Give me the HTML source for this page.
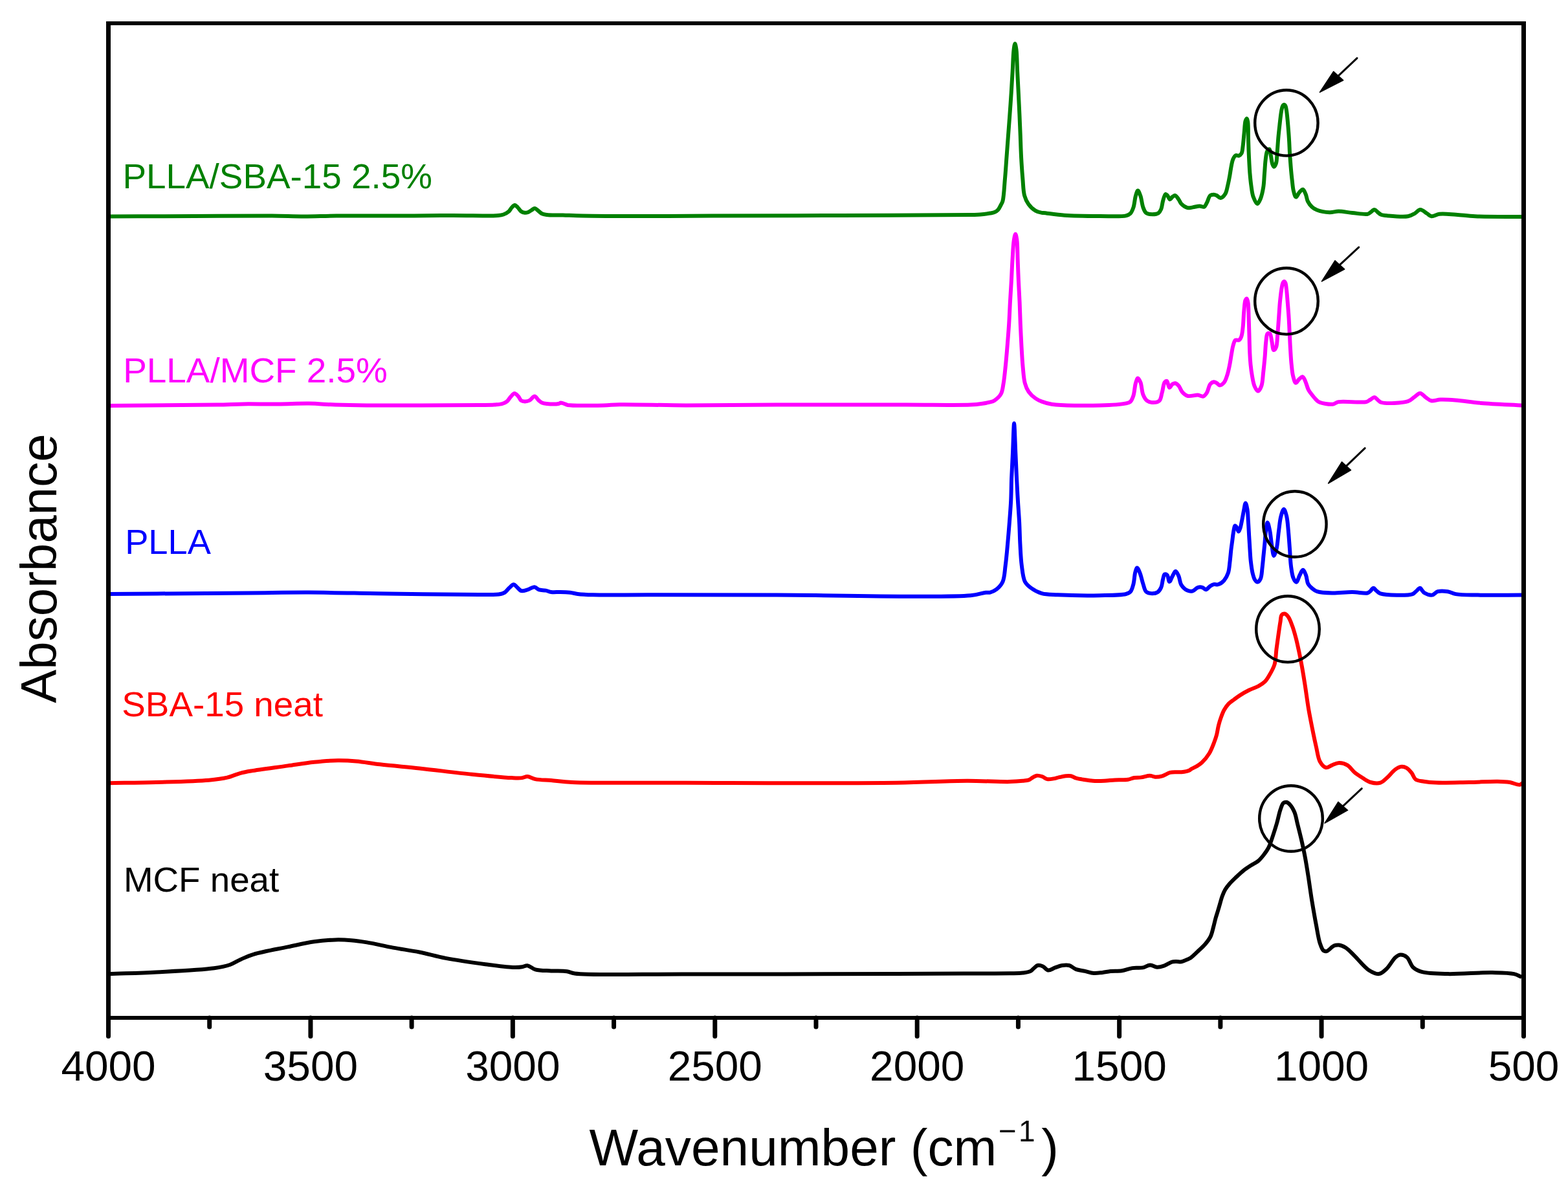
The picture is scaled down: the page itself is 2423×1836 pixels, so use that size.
<!DOCTYPE html>
<html><head><meta charset="utf-8"><title>FTIR spectra</title>
<style>html,body{margin:0;padding:0;background:#fff;}svg{display:block;}</style>
</head><body>
<svg width="2423" height="1836" viewBox="0 0 2423 1836" font-family="'Liberation Sans', Arial, Helvetica, sans-serif">
<rect width="2423" height="1836" fill="#fff"/>
<path d="M167.0,334.5 C211.3,334.3 256.8,334.2 300.0,334.0 C341.0,333.8 388.6,333.3 420.0,333.5 C440.3,333.7 453.3,334.5 470.0,334.5 C486.7,334.5 499.7,333.7 520.0,333.5 C551.4,333.2 606.9,333.6 640.0,333.5 C663.4,333.4 680.0,333.0 700.0,333.0 C720.0,333.0 748.4,333.7 760.0,333.5 C764.7,333.4 766.9,333.4 770.0,333.0 C772.8,332.7 775.4,332.4 778.0,331.5 C780.8,330.5 783.8,328.9 786.0,327.0 C788.1,325.2 789.3,322.3 791.0,320.5 C792.4,319.0 793.9,317.0 795.4,317.0 C796.9,317.0 798.5,319.1 800.0,320.5 C801.7,322.2 803.1,325.1 805.0,326.5 C806.8,327.8 809.1,328.6 811.0,328.8 C812.7,329.0 814.4,328.6 816.0,328.0 C817.7,327.4 819.3,326.0 821.0,325.0 C822.8,324.0 824.7,321.9 826.4,322.0 C828.0,322.1 829.4,323.8 831.0,325.0 C832.9,326.4 834.7,328.8 837.0,330.0 C839.4,331.2 841.6,331.5 845.0,332.0 C851.0,332.8 861.3,332.3 870.0,332.5 C879.5,332.8 887.1,333.3 900.0,333.5 C923.6,334.0 966.7,334.0 1000.0,334.0 C1033.3,334.0 1060.9,333.6 1100.0,333.5 C1155.2,333.3 1233.3,333.2 1300.0,333.0 C1366.7,332.7 1471.3,332.5 1500.0,332.0 C1507.9,331.8 1510.0,331.9 1515.0,331.5 C1520.0,331.1 1526.0,330.2 1530.0,329.5 C1532.7,329.0 1534.6,328.9 1536.7,328.0 C1538.8,327.1 1540.9,325.7 1542.5,323.9 C1544.2,322.0 1545.3,319.3 1546.5,317.0 C1547.6,314.8 1548.7,313.6 1549.5,310.5 C1551.3,303.8 1551.9,288.2 1552.9,277.1 C1553.9,266.0 1554.6,254.8 1555.4,243.7 C1556.2,232.6 1557.1,221.4 1557.9,210.3 C1558.7,199.2 1559.6,188.0 1560.4,176.9 C1561.2,165.8 1562.0,154.6 1562.7,143.5 C1563.4,132.4 1564.0,121.2 1564.7,110.1 C1565.3,99.0 1565.6,84.3 1566.6,76.7 C1567.1,72.7 1567.8,67.5 1568.4,67.5 C1569.1,67.5 1569.9,72.6 1570.5,76.7 C1571.5,84.3 1571.6,99.0 1572.1,110.1 C1572.7,121.2 1573.2,132.4 1573.8,143.5 C1574.3,154.6 1574.9,165.8 1575.4,176.9 C1575.9,188.0 1576.3,199.2 1576.8,210.3 C1577.2,221.4 1577.5,232.6 1578.1,243.7 C1578.7,254.8 1579.5,266.8 1580.4,277.1 C1581.2,286.1 1581.2,295.3 1583.1,302.2 C1584.6,307.5 1586.5,311.6 1589.3,315.5 C1592.1,319.4 1596.3,323.4 1600.1,325.6 C1603.3,327.5 1607.7,328.5 1610.0,328.9 C1611.2,329.1 1611.4,328.9 1612.8,329.0 C1617.7,329.4 1632.8,331.9 1645.0,332.7 C1660.9,333.8 1683.1,333.9 1700.0,334.0 C1714.4,334.0 1732.3,335.2 1740.0,333.3 C1743.3,332.5 1745.0,331.7 1746.8,329.9 C1749.0,327.7 1750.2,324.2 1751.5,320.4 C1753.1,315.5 1753.5,307.5 1754.9,302.8 C1755.9,299.5 1757.1,294.6 1758.3,294.6 C1759.6,294.6 1761.2,299.5 1762.4,302.8 C1764.1,307.5 1764.6,315.6 1766.4,320.4 C1767.7,323.9 1768.8,327.4 1771.2,329.2 C1773.6,331.0 1777.5,331.2 1780.7,331.2 C1783.9,331.2 1787.9,330.8 1790.2,329.2 C1792.2,327.8 1793.2,325.6 1794.3,323.1 C1795.7,319.8 1795.9,314.8 1797.0,310.9 C1798.1,307.1 1799.4,300.5 1801.0,300.0 C1801.9,299.7 1803.0,301.0 1804.0,302.0 C1805.4,303.4 1806.4,308.0 1807.8,308.2 C1809.1,308.3 1810.4,305.1 1811.9,304.1 C1813.2,303.2 1814.6,301.8 1816.0,302.1 C1817.8,302.5 1819.8,306.0 1821.4,308.2 C1823.0,310.3 1823.5,313.0 1825.4,315.0 C1827.7,317.4 1831.8,320.3 1835.0,321.1 C1837.7,321.8 1840.2,320.8 1843.1,320.4 C1846.5,319.9 1850.7,318.4 1853.9,318.4 C1856.4,318.4 1858.9,320.5 1860.7,319.7 C1862.6,318.9 1863.4,316.0 1864.8,313.6 C1866.6,310.4 1867.8,303.9 1870.2,302.0 C1871.8,300.7 1873.9,300.7 1875.6,300.7 C1877.1,300.7 1878.5,301.3 1880.0,302.0 C1881.9,302.9 1884.0,306.1 1886.1,306.0 C1888.4,305.8 1891.4,302.7 1893.2,299.9 C1895.4,296.6 1896.0,291.3 1897.2,286.7 C1898.4,281.8 1899.4,276.6 1900.3,271.5 C1901.2,266.4 1901.9,260.8 1902.8,256.3 C1903.6,252.6 1904.0,249.1 1905.3,246.2 C1906.4,243.8 1907.7,240.9 1909.4,240.1 C1910.8,239.4 1913.0,241.1 1914.5,240.6 C1916.0,240.1 1917.5,238.8 1918.5,237.1 C1919.9,234.6 1920.0,230.2 1920.6,225.9 C1921.4,220.1 1921.9,212.2 1922.6,205.6 C1923.3,199.3 1923.4,190.8 1924.6,187.0 C1925.2,185.2 1926.0,183.3 1926.6,183.3 C1927.2,183.4 1927.8,185.7 1928.2,188.0 C1929.2,193.4 1928.7,206.8 1929.0,215.8 C1929.3,224.4 1929.5,232.7 1929.9,241.1 C1930.3,249.6 1930.7,258.5 1931.3,266.5 C1931.9,273.6 1932.5,280.2 1933.4,286.7 C1934.3,292.7 1934.8,299.0 1936.6,304.0 C1938.2,308.2 1940.9,315.0 1942.9,315.0 C1944.6,315.0 1946.5,310.3 1947.9,307.0 C1949.8,302.4 1951.2,295.7 1952.2,289.6 C1953.3,282.9 1953.4,275.3 1954.0,268.1 C1954.6,260.9 1954.9,252.8 1955.7,246.6 C1956.3,241.8 1956.7,236.6 1958.1,233.8 C1958.9,232.2 1960.4,230.3 1961.3,230.5 C1962.7,230.9 1963.2,237.6 1964.0,241.3 C1964.8,245.1 1965.0,250.1 1966.1,253.1 C1966.8,255.1 1967.9,257.8 1968.8,257.8 C1969.8,257.8 1971.2,254.5 1972.0,252.0 C1973.2,248.1 1973.1,241.7 1973.6,235.9 C1974.2,229.3 1974.6,221.6 1975.2,214.4 C1975.8,207.3 1976.6,200.1 1977.4,193.0 C1978.2,185.8 1979.1,176.8 1980.1,171.5 C1980.7,168.3 1981.0,165.7 1982.0,164.0 C1982.6,162.9 1983.6,161.8 1984.4,161.8 C1985.1,161.8 1985.9,162.9 1986.5,164.0 C1987.4,165.7 1987.6,168.3 1988.1,171.5 C1988.9,176.8 1989.7,185.8 1990.3,193.0 C1990.9,200.1 1991.5,207.3 1991.9,214.4 C1992.4,221.6 1992.6,228.7 1993.0,235.9 C1993.5,243.1 1994.0,250.2 1994.6,257.4 C1995.2,264.6 1995.9,272.3 1996.7,278.9 C1997.4,284.7 1997.7,290.4 1998.9,295.0 C1999.8,298.7 2001.0,304.4 2002.6,304.6 C2004.1,304.8 2006.0,299.1 2008.0,297.1 C2009.7,295.3 2011.8,292.5 2013.4,292.8 C2015.1,293.1 2016.5,297.5 2017.7,300.3 C2019.1,303.5 2019.3,307.8 2020.9,311.1 C2022.5,314.3 2024.8,317.4 2027.3,319.7 C2029.7,321.9 2032.1,323.4 2035.6,324.7 C2040.5,326.6 2048.7,328.0 2054.6,328.2 C2059.6,328.4 2063.4,326.5 2068.5,326.5 C2074.9,326.5 2082.7,328.3 2090.0,329.0 C2097.6,329.7 2108.7,331.9 2113.4,330.8 C2115.6,330.3 2116.4,329.1 2118.0,328.0 C2119.8,326.8 2121.9,323.9 2123.8,323.9 C2125.6,323.9 2127.3,326.7 2129.0,328.0 C2130.7,329.3 2132.0,330.8 2134.2,331.7 C2137.0,332.8 2140.2,333.0 2144.6,333.4 C2152.2,334.1 2168.2,335.7 2175.7,334.3 C2180.2,333.5 2182.9,331.8 2186.1,330.0 C2189.2,328.3 2191.7,324.0 2194.8,323.9 C2198.1,323.8 2202.1,328.1 2205.2,330.0 C2207.7,331.5 2209.4,333.9 2212.1,334.3 C2215.5,334.8 2219.4,331.4 2224.2,330.8 C2231.2,329.9 2241.2,331.2 2250.1,331.7 C2259.6,332.3 2267.5,333.7 2279.6,334.3 C2298.8,335.2 2329.2,334.8 2354.0,335.0" fill="none" stroke="#008000" stroke-width="6" stroke-linejoin="round" stroke-linecap="butt"/>
<path d="M168.0,626.9 C223.7,626.5 298.2,626.3 335.0,625.6 C353.1,625.3 361.1,624.6 375.6,624.4 C392.4,624.2 412.5,624.7 430.0,624.5 C446.3,624.4 462.1,623.4 477.3,623.6 C491.4,623.8 503.8,625.1 518.0,625.6 C533.5,626.1 545.5,626.3 566.8,626.4 C606.8,626.7 708.1,626.4 740.0,626.0 C752.2,625.8 758.6,625.9 765.3,625.4 C769.7,625.1 773.0,625.0 776.2,624.0 C778.9,623.2 781.3,622.1 783.4,620.4 C785.7,618.6 787.2,615.2 789.2,613.1 C791.1,611.2 793.0,608.1 795.0,608.0 C796.9,607.9 799.1,610.6 800.8,612.4 C802.5,614.2 803.3,617.6 805.1,618.9 C806.7,620.1 808.9,620.4 810.9,620.4 C813.2,620.5 815.8,620.0 818.1,618.9 C820.9,617.6 823.6,612.4 826.1,612.5 C828.4,612.6 830.5,617.1 832.6,618.9 C834.3,620.3 835.7,621.7 837.6,622.5 C839.7,623.4 841.9,623.7 844.9,624.0 C849.6,624.5 859.3,624.7 863.0,624.0 C864.7,623.7 865.2,622.6 866.6,622.5 C868.6,622.4 871.8,624.0 873.8,624.7 C875.2,625.2 875.4,625.6 877.4,626.0 C884.9,627.3 918.2,626.7 933.0,626.4 C942.8,626.2 946.5,625.4 957.4,625.2 C979.8,624.8 1023.1,626.3 1060.0,626.4 C1103.0,626.5 1149.2,625.7 1200.0,625.5 C1260.7,625.3 1344.8,625.5 1400.0,625.5 C1439.1,625.5 1480.2,626.5 1500.0,625.5 C1508.4,625.1 1512.6,624.5 1518.0,623.7 C1522.4,623.1 1526.6,622.3 1530.0,621.4 C1532.6,620.7 1534.4,620.4 1536.7,618.9 C1539.9,616.8 1544.4,613.1 1546.7,608.9 C1549.3,604.3 1549.6,598.4 1550.7,592.2 C1552.0,584.7 1552.8,576.1 1553.7,567.1 C1554.8,556.8 1555.8,544.8 1556.7,533.7 C1557.6,522.6 1558.5,511.4 1559.2,500.3 C1559.9,489.2 1560.3,478.0 1560.9,466.9 C1561.5,455.8 1562.3,444.6 1562.9,433.5 C1563.5,422.4 1563.9,410.7 1564.6,400.1 C1565.2,390.3 1565.6,379.0 1566.7,372.0 C1567.4,367.7 1568.4,361.7 1569.2,361.7 C1570.0,361.7 1570.9,367.7 1571.5,372.0 C1572.4,379.0 1572.2,390.3 1572.6,400.1 C1573.0,410.8 1573.4,422.4 1573.9,433.5 C1574.4,444.6 1575.1,455.8 1575.6,466.9 C1576.1,478.0 1576.3,489.2 1576.8,500.3 C1577.3,511.4 1577.8,522.6 1578.4,533.7 C1579.0,544.8 1579.6,556.8 1580.6,567.1 C1581.5,576.1 1581.9,585.3 1583.8,592.2 C1585.2,597.5 1586.9,601.6 1589.6,605.5 C1592.3,609.4 1596.4,613.0 1600.1,615.6 C1603.3,617.9 1606.3,619.2 1610.0,620.6 C1614.5,622.3 1618.2,623.7 1625.3,624.7 C1640.7,626.9 1679.0,627.1 1700.0,626.5 C1715.4,626.1 1732.3,625.2 1740.0,623.4 C1743.3,622.6 1745.0,622.4 1746.8,620.7 C1749.0,618.7 1750.2,615.0 1751.5,611.2 C1753.2,606.1 1753.4,597.2 1754.9,592.3 C1755.9,589.1 1757.0,584.6 1758.3,584.5 C1759.5,584.4 1761.2,588.1 1762.4,590.9 C1764.3,595.4 1764.3,604.8 1766.4,609.9 C1768.0,613.8 1769.9,617.4 1772.6,619.4 C1775.1,621.3 1778.9,622.1 1782.0,622.1 C1785.2,622.1 1789.3,621.5 1791.5,619.4 C1794.1,617.0 1794.3,611.6 1795.6,607.2 C1797.1,602.2 1797.7,593.6 1799.7,590.9 C1800.7,589.6 1802.1,588.6 1803.1,588.9 C1804.8,589.5 1805.4,598.7 1807.1,599.0 C1808.5,599.2 1810.2,594.7 1811.9,593.6 C1813.2,592.8 1814.6,592.1 1816.0,592.3 C1817.7,592.6 1819.8,594.5 1821.4,596.3 C1823.5,598.6 1824.5,603.2 1826.8,605.8 C1829.0,608.3 1831.6,610.9 1835.0,611.9 C1839.3,613.1 1846.7,610.2 1851.2,610.6 C1854.4,610.9 1857.1,613.2 1859.4,612.6 C1861.6,612.0 1863.2,609.6 1864.8,607.2 C1867.0,603.9 1867.8,596.4 1870.2,593.6 C1871.8,591.7 1873.8,590.4 1875.6,590.2 C1877.1,590.0 1878.6,591.0 1880.0,591.8 C1881.6,592.7 1883.0,595.4 1884.8,595.4 C1886.9,595.5 1890.0,592.9 1891.9,590.6 C1894.2,587.7 1895.3,583.0 1896.7,578.7 C1898.2,573.9 1899.2,568.6 1900.3,563.2 C1901.4,557.5 1902.3,550.7 1903.3,545.3 C1904.1,540.9 1904.6,536.9 1905.7,533.4 C1906.6,530.5 1907.4,526.8 1909.2,525.6 C1910.6,524.7 1913.1,526.4 1914.6,525.6 C1916.2,524.7 1917.3,522.6 1918.2,520.2 C1919.6,516.7 1920.0,511.4 1920.6,505.9 C1921.5,498.5 1921.6,487.3 1922.4,479.7 C1923.0,473.8 1923.3,466.9 1924.5,464.0 C1925.1,462.7 1925.9,461.4 1926.5,461.5 C1927.4,461.7 1928.1,465.1 1928.6,468.0 C1929.5,473.1 1929.3,482.4 1929.6,490.0 C1929.9,498.1 1930.1,506.3 1930.4,515.0 C1930.7,524.6 1930.9,536.5 1931.3,545.3 C1931.6,552.1 1931.9,557.2 1932.5,563.2 C1933.1,569.2 1933.9,575.4 1934.9,581.1 C1935.9,586.5 1936.7,592.4 1938.5,596.6 C1939.9,599.8 1942.0,604.5 1943.8,604.5 C1945.6,604.5 1947.9,600.1 1949.2,596.6 C1951.2,591.4 1951.3,582.5 1952.2,575.1 C1953.1,567.4 1953.9,559.2 1954.6,551.3 C1955.3,543.3 1955.5,534.0 1956.4,527.4 C1957.0,522.7 1957.0,516.9 1958.7,515.5 C1959.6,514.7 1961.3,514.7 1962.3,515.5 C1964.1,516.9 1964.3,523.3 1965.3,527.4 C1966.3,531.8 1966.7,540.6 1968.3,541.0 C1969.3,541.3 1971.0,539.0 1971.9,536.9 C1973.8,532.7 1973.6,522.8 1974.3,515.5 C1975.0,507.8 1975.5,499.6 1976.1,491.6 C1976.7,483.6 1977.1,475.3 1977.8,467.7 C1978.5,460.6 1979.3,452.9 1980.2,447.4 C1980.8,443.5 1981.3,439.6 1982.3,437.5 C1982.9,436.3 1983.7,435.0 1984.4,435.0 C1985.1,435.0 1985.9,436.3 1986.4,437.5 C1987.3,439.6 1987.5,443.5 1988.0,447.4 C1988.7,453.0 1989.2,460.7 1989.8,467.7 C1990.4,475.3 1991.1,483.6 1991.6,491.6 C1992.1,499.6 1992.4,507.5 1992.8,515.5 C1993.2,523.4 1993.5,531.4 1994.0,539.3 C1994.5,547.3 1994.9,555.8 1995.7,563.2 C1996.4,569.6 1996.8,576.0 1998.1,581.1 C1999.2,585.2 2000.5,591.5 2002.3,591.8 C2003.8,592.1 2005.8,587.5 2007.7,585.9 C2009.4,584.4 2011.5,582.0 2013.0,582.3 C2014.7,582.7 2015.9,586.6 2017.2,589.4 C2018.9,593.1 2020.0,598.8 2022.0,602.6 C2023.7,605.8 2026.2,608.6 2028.0,610.9 C2029.3,612.6 2030.2,613.8 2031.6,615.3 C2033.4,617.2 2034.9,619.6 2037.9,621.1 C2042.7,623.5 2053.9,625.3 2059.4,624.7 C2063.1,624.3 2064.1,621.9 2068.3,621.1 C2077.2,619.4 2103.8,623.0 2111.3,621.1 C2114.2,620.4 2115.0,619.1 2117.0,618.0 C2119.2,616.8 2121.8,613.9 2123.9,614.0 C2125.8,614.1 2127.2,616.7 2129.0,618.0 C2130.8,619.4 2131.6,621.1 2134.6,622.0 C2141.8,624.1 2167.2,623.0 2175.8,620.2 C2180.3,618.7 2181.9,616.1 2185.0,614.0 C2188.2,611.9 2191.5,607.6 2194.6,607.7 C2197.5,607.8 2200.1,612.1 2203.0,614.0 C2205.8,615.9 2208.2,618.6 2211.6,619.3 C2215.6,620.2 2220.5,617.7 2225.9,617.5 C2232.7,617.2 2240.4,617.7 2249.2,618.4 C2260.6,619.3 2273.8,621.6 2288.6,622.9 C2307.8,624.5 2332.7,625.3 2354.8,626.5" fill="none" stroke="#ff00ff" stroke-width="6" stroke-linejoin="round" stroke-linecap="butt"/>
<path d="M167.0,918.0 C239.3,917.5 326.6,916.9 383.8,916.4 C421.3,916.1 443.8,915.5 477.0,915.6 C515.2,915.7 557.7,917.0 600.0,917.5 C645.2,918.1 710.3,918.9 740.0,918.9 C753.9,918.9 763.4,919.6 770.6,918.5 C774.7,917.9 777.3,917.3 780.0,915.6 C782.7,913.9 784.6,910.6 787.0,908.5 C789.2,906.5 791.7,903.2 793.8,903.2 C795.6,903.2 797.0,905.8 798.8,907.3 C800.9,909.1 803.1,912.5 805.8,913.2 C808.6,913.9 812.0,912.3 815.2,911.4 C818.7,910.4 822.7,907.1 825.8,907.3 C828.5,907.5 830.2,910.5 832.9,911.4 C836.0,912.4 840.1,911.9 843.4,912.6 C846.4,913.2 848.5,914.6 851.7,915.0 C855.7,915.6 861.0,914.9 865.8,915.0 C870.8,915.1 876.3,915.3 881.0,915.8 C885.2,916.3 888.2,917.4 892.8,917.9 C899.3,918.7 906.1,919.0 916.3,919.3 C935.6,919.9 966.1,919.3 1000.0,919.3 C1052.4,919.3 1126.6,919.4 1200.0,919.5 C1289.9,919.6 1456.5,924.3 1500.0,920.2 C1512.2,919.0 1517.9,916.3 1523.3,915.7 C1526.2,915.4 1527.6,916.2 1530.0,915.6 C1533.1,914.8 1536.9,913.0 1540.0,910.6 C1543.5,907.8 1547.2,903.9 1549.5,898.9 C1552.4,892.4 1552.5,882.8 1553.7,873.8 C1555.1,863.5 1556.1,851.5 1557.1,840.4 C1558.1,829.3 1559.0,818.1 1559.9,807.0 C1560.7,795.9 1561.7,784.7 1562.2,773.6 C1562.7,762.5 1562.7,751.8 1563.1,740.2 C1563.6,727.4 1564.4,713.8 1565.0,700.0 C1565.7,685.2 1566.4,654.2 1567.1,654.2 C1567.8,654.2 1568.6,685.2 1569.3,700.0 C1569.9,713.8 1570.5,727.4 1571.1,740.2 C1571.7,751.9 1572.2,762.5 1572.9,773.6 C1573.6,784.7 1574.5,795.9 1575.1,807.0 C1575.7,818.1 1575.8,829.3 1576.4,840.4 C1577.0,851.5 1577.4,863.5 1578.8,873.8 C1580.0,882.8 1580.6,892.7 1583.8,898.9 C1586.2,903.4 1589.5,906.0 1593.5,908.9 C1598.0,912.2 1603.8,915.4 1610.0,917.2 C1617.1,919.2 1624.2,918.8 1634.3,919.3 C1650.9,920.1 1680.8,920.6 1700.0,920.2 C1715.0,919.9 1732.3,920.0 1740.0,918.0 C1743.3,917.1 1745.0,916.6 1746.8,914.6 C1749.2,912.0 1750.3,906.9 1751.5,902.4 C1752.9,897.1 1753.0,889.3 1754.2,884.8 C1755.0,881.8 1755.8,877.6 1757.0,877.5 C1758.3,877.4 1760.3,882.7 1761.7,886.1 C1763.5,890.6 1764.7,897.4 1766.4,902.4 C1767.9,906.8 1768.5,912.2 1771.2,914.6 C1773.5,916.7 1777.7,917.2 1780.7,917.3 C1783.5,917.3 1786.6,916.8 1788.8,915.3 C1791.2,913.7 1793.0,910.8 1794.3,907.8 C1795.9,904.4 1796.0,899.2 1797.0,895.6 C1797.8,892.6 1798.2,888.3 1799.7,887.5 C1800.7,887.0 1802.6,887.7 1803.7,888.8 C1805.4,890.5 1805.7,898.9 1807.1,899.0 C1808.5,899.1 1810.3,893.0 1811.9,890.2 C1813.4,887.6 1815.0,882.7 1816.6,882.7 C1818.2,882.7 1820.0,887.2 1821.4,890.2 C1823.1,894.0 1823.0,900.0 1825.4,903.8 C1827.7,907.4 1831.7,911.1 1835.0,912.6 C1837.6,913.8 1840.5,914.0 1843.1,913.3 C1845.9,912.6 1848.5,908.6 1851.2,907.8 C1853.5,907.1 1855.9,907.2 1858.0,907.8 C1860.0,908.4 1861.5,911.3 1863.4,911.2 C1865.6,911.1 1868.0,907.2 1870.2,905.8 C1872.0,904.6 1873.6,903.6 1875.6,903.1 C1877.8,902.6 1880.3,903.9 1882.7,903.2 C1885.6,902.3 1889.1,899.7 1891.6,896.9 C1894.3,893.8 1896.4,889.7 1897.9,885.3 C1899.6,880.1 1899.8,873.4 1900.6,867.4 C1901.3,861.4 1901.8,855.0 1902.4,849.5 C1903.0,844.7 1903.6,840.6 1904.2,836.1 C1904.8,831.6 1905.2,826.8 1906.0,822.6 C1906.7,819.0 1907.4,812.8 1908.6,812.5 C1909.4,812.3 1910.5,814.3 1911.3,815.5 C1912.3,817.1 1913.1,821.5 1914.0,821.5 C1914.9,821.5 1915.9,817.9 1916.7,815.5 C1917.8,812.1 1918.5,807.3 1919.4,803.0 C1920.3,798.4 1921.2,793.1 1922.1,788.6 C1922.9,784.6 1923.8,777.5 1924.7,777.5 C1925.6,777.5 1926.7,783.2 1927.4,786.8 C1928.3,791.8 1928.4,798.4 1928.8,804.7 C1929.3,811.7 1929.7,819.6 1930.1,827.1 C1930.6,834.6 1931.0,842.5 1931.5,849.5 C1931.9,855.8 1932.1,861.4 1932.8,867.4 C1933.5,873.4 1934.3,880.1 1935.5,885.3 C1936.5,889.4 1937.5,893.5 1939.1,896.0 C1940.2,897.7 1941.7,899.7 1943.1,899.6 C1944.7,899.5 1946.8,896.8 1948.0,894.2 C1949.9,890.1 1949.9,882.3 1950.7,876.3 C1951.4,870.3 1951.9,864.4 1952.5,858.4 C1953.1,852.4 1953.7,846.8 1954.3,840.5 C1955.0,833.5 1955.4,824.4 1956.3,818.3 C1956.9,814.0 1957.7,807.5 1958.6,807.5 C1959.7,807.5 1961.4,816.0 1962.4,821.0 C1963.6,827.1 1964.0,834.9 1965.1,841.4 C1966.1,847.5 1967.1,858.9 1968.5,859.0 C1969.7,859.1 1971.5,852.7 1972.6,848.2 C1974.3,841.3 1974.8,829.7 1976.0,821.0 C1977.1,813.0 1977.7,804.2 1979.4,798.0 C1980.6,793.6 1982.4,787.0 1983.9,787.0 C1985.4,787.0 1987.1,793.6 1988.2,798.0 C1989.7,804.2 1990.1,813.0 1990.9,821.0 C1991.7,829.7 1992.3,839.1 1993.0,848.2 C1993.7,857.2 1993.9,867.3 1995.0,875.3 C1995.9,881.8 1996.6,888.5 1998.4,892.9 C1999.6,895.9 2001.6,899.8 2003.1,899.7 C2005.0,899.6 2006.7,892.1 2008.5,888.8 C2010.1,885.9 2011.7,880.7 2013.3,880.7 C2014.9,880.7 2016.7,885.6 2018.0,888.8 C2019.6,892.7 2019.5,898.8 2021.4,902.4 C2022.9,905.3 2025.2,907.2 2027.5,909.2 C2029.9,911.2 2032.0,913.0 2035.5,914.2 C2041.1,916.1 2050.5,916.3 2058.8,916.5 C2068.4,916.7 2080.2,914.9 2089.8,915.0 C2098.1,915.1 2108.7,917.6 2113.1,916.5 C2115.1,916.0 2115.6,915.1 2117.0,914.0 C2118.7,912.6 2120.7,908.8 2122.4,908.8 C2124.0,908.8 2125.3,911.6 2127.0,913.0 C2128.9,914.5 2129.9,916.2 2133.2,917.3 C2141.7,920.0 2175.1,920.8 2182.9,918.1 C2185.7,917.1 2186.2,915.4 2188.0,914.0 C2190.0,912.4 2192.7,908.6 2194.5,908.8 C2195.9,908.9 2196.8,911.7 2198.0,913.0 C2199.1,914.2 2199.8,915.5 2201.5,916.5 C2204.1,918.0 2209.6,920.1 2213.1,919.6 C2216.3,919.1 2218.2,915.2 2221.6,914.2 C2225.9,913.0 2232.4,913.5 2237.2,914.2 C2241.6,914.9 2244.4,917.2 2249.6,918.1 C2258.1,919.6 2270.3,919.3 2283.7,919.6 C2303.1,920.0 2331.2,919.6 2355.0,919.6" fill="none" stroke="#0000ff" stroke-width="6" stroke-linejoin="round" stroke-linecap="butt"/>
<path d="M168.0,1210.2 C192.5,1209.8 216.3,1209.7 241.4,1209.0 C267.8,1208.2 302.6,1207.5 322.7,1205.7 C334.7,1204.6 342.6,1203.7 351.2,1201.7 C358.7,1199.9 365.1,1196.5 371.6,1194.8 C377.3,1193.3 380.7,1192.7 387.8,1191.5 C401.0,1189.2 427.4,1185.9 444.8,1183.4 C459.5,1181.3 472.3,1179.1 485.5,1177.7 C498.0,1176.4 510.7,1175.3 522.1,1175.2 C532.2,1175.1 540.5,1175.5 550.6,1176.4 C562.1,1177.4 573.4,1179.7 587.2,1181.3 C604.9,1183.4 626.4,1185.1 648.2,1187.4 C673.4,1190.1 704.4,1194.3 729.6,1196.8 C751.4,1199.0 776.7,1201.5 790.6,1202.1 C797.8,1202.4 802.4,1202.7 806.9,1202.1 C810.1,1201.7 812.0,1199.9 815.0,1200.0 C818.7,1200.1 822.4,1203.1 827.2,1204.1 C833.9,1205.5 842.9,1205.4 851.6,1206.1 C861.7,1207.0 869.0,1208.3 884.2,1209.0 C919.5,1210.6 992.4,1209.6 1060.0,1209.7 C1151.9,1209.9 1306.1,1210.8 1385.5,1209.7 C1431.4,1209.1 1462.3,1206.9 1494.0,1206.8 C1518.7,1206.7 1544.3,1208.4 1560.0,1208.1 C1568.7,1207.9 1574.8,1207.4 1580.3,1206.8 C1584.1,1206.4 1587.1,1206.4 1589.8,1205.4 C1592.2,1204.5 1593.9,1202.6 1596.0,1201.5 C1598.0,1200.4 1599.8,1199.0 1602.0,1198.7 C1604.5,1198.4 1607.5,1199.1 1610.2,1200.0 C1613.0,1200.9 1615.4,1203.5 1618.3,1204.1 C1621.3,1204.7 1624.8,1203.9 1627.8,1203.4 C1630.7,1203.0 1633.1,1202.0 1636.0,1201.4 C1639.3,1200.7 1643.4,1199.6 1646.8,1199.3 C1649.7,1199.0 1652.2,1198.8 1654.9,1199.3 C1657.7,1199.9 1660.1,1201.8 1663.1,1202.7 C1666.4,1203.7 1670.0,1204.2 1673.9,1204.8 C1678.5,1205.5 1683.6,1206.5 1688.8,1206.8 C1694.4,1207.2 1700.7,1207.0 1706.5,1206.8 C1712.1,1206.6 1717.1,1205.7 1722.8,1205.4 C1729.2,1205.0 1737.6,1205.7 1743.1,1204.8 C1746.9,1204.2 1749.3,1202.6 1752.6,1202.0 C1756.1,1201.4 1759.6,1201.9 1763.4,1201.4 C1767.7,1200.9 1773.1,1198.6 1777.0,1198.7 C1780.1,1198.8 1782.2,1200.5 1785.1,1200.7 C1788.4,1200.9 1792.3,1200.3 1796.0,1199.3 C1800.0,1198.2 1804.3,1194.9 1808.2,1193.9 C1811.5,1193.1 1814.7,1193.3 1817.7,1193.2 C1820.5,1193.1 1822.8,1193.5 1825.8,1193.2 C1829.5,1192.8 1835.7,1191.6 1838.0,1190.5 C1839.0,1190.0 1839.1,1189.6 1840.0,1189.0 C1841.9,1187.8 1846.0,1186.1 1848.9,1184.4 C1851.8,1182.6 1854.4,1181.1 1857.2,1178.5 C1861.0,1175.0 1865.5,1169.4 1868.7,1164.2 C1871.9,1158.9 1874.3,1152.2 1876.3,1147.0 C1877.9,1142.8 1879.0,1139.6 1880.1,1135.5 C1881.3,1131.0 1881.8,1125.8 1883.0,1121.2 C1884.1,1116.9 1885.3,1112.8 1886.8,1108.8 C1888.2,1104.9 1889.6,1100.9 1891.6,1097.3 C1893.5,1093.9 1895.7,1090.5 1898.3,1087.8 C1900.8,1085.2 1903.9,1083.3 1906.9,1081.1 C1910.0,1078.8 1912.8,1076.7 1916.4,1074.4 C1920.6,1071.7 1925.9,1068.7 1930.7,1066.3 C1935.4,1064.0 1940.9,1062.4 1945.1,1060.1 C1948.7,1058.1 1951.9,1056.1 1954.6,1053.4 C1957.3,1050.7 1959.1,1047.5 1961.3,1043.8 C1964.1,1039.1 1967.6,1033.3 1969.5,1027.0 C1971.6,1019.9 1971.5,1010.8 1972.5,1003.0 C1973.5,995.5 1974.5,988.2 1975.5,981.0 C1976.5,974.2 1977.5,966.6 1978.5,961.0 C1979.2,956.9 1978.9,952.5 1980.5,950.5 C1981.6,949.1 1983.6,948.3 1985.2,948.5 C1987.1,948.8 1989.0,951.0 1990.7,953.3 C1993.2,956.7 1995.3,962.8 1997.2,968.1 C1999.3,973.9 2001.0,980.3 2002.7,986.6 C2004.4,993.2 2005.8,999.8 2007.3,1006.9 C2008.9,1014.6 2010.5,1022.6 2012.0,1030.9 C2013.6,1039.8 2015.0,1048.8 2016.6,1058.7 C2018.4,1070.1 2020.1,1083.9 2022.1,1095.7 C2024.0,1106.6 2026.1,1117.0 2028.1,1127.1 C2030.0,1136.6 2032.0,1146.1 2034.0,1154.8 C2035.8,1162.6 2036.6,1171.5 2039.7,1177.0 C2042.1,1181.2 2045.7,1185.6 2049.0,1186.3 C2051.9,1186.9 2055.0,1183.8 2058.2,1182.6 C2061.7,1181.3 2065.4,1179.0 2069.3,1178.9 C2073.4,1178.8 2078.4,1180.3 2082.2,1182.6 C2086.2,1185.0 2088.9,1190.0 2092.7,1193.2 C2096.6,1196.5 2101.0,1199.3 2105.3,1202.0 C2109.5,1204.6 2113.4,1207.7 2118.0,1209.0 C2122.7,1210.3 2128.9,1211.0 2133.2,1209.6 C2137.2,1208.4 2139.9,1205.0 2143.3,1202.0 C2147.4,1198.4 2151.8,1192.3 2155.9,1189.4 C2158.9,1187.2 2161.8,1185.3 2164.8,1184.9 C2167.7,1184.5 2171.0,1185.4 2173.7,1186.8 C2176.6,1188.4 2179.0,1191.5 2181.3,1194.4 C2183.7,1197.4 2184.5,1202.4 2187.6,1204.6 C2190.8,1206.9 2195.6,1206.9 2200.3,1207.7 C2205.9,1208.7 2211.4,1209.3 2219.2,1209.6 C2232.0,1210.2 2253.6,1209.3 2269.9,1209.0 C2285.2,1208.7 2302.5,1207.5 2314.2,1207.7 C2321.9,1207.8 2327.3,1208.1 2333.2,1209.0 C2338.6,1209.9 2344.7,1213.5 2348.4,1212.8 C2350.8,1212.4 2352.1,1210.3 2354.0,1209.0" fill="none" stroke="#ff0000" stroke-width="6" stroke-linejoin="round" stroke-linecap="butt"/>
<path d="M168.0,1505.3 C192.5,1504.3 215.7,1503.8 241.4,1502.4 C269.8,1500.9 310.5,1499.2 330.9,1496.3 C341.7,1494.8 348.1,1493.5 355.3,1491.0 C361.4,1488.8 365.8,1485.5 371.6,1482.9 C377.9,1480.1 383.4,1477.4 391.9,1474.8 C405.3,1470.7 428.3,1466.8 444.8,1463.4 C459.2,1460.4 472.6,1457.0 485.5,1455.2 C496.9,1453.6 507.9,1452.7 518.0,1452.4 C526.7,1452.2 534.3,1452.5 542.4,1453.2 C550.5,1453.9 557.7,1454.9 566.8,1456.4 C578.7,1458.4 593.9,1462.1 607.5,1464.6 C621.0,1467.1 634.7,1468.8 648.2,1471.5 C661.8,1474.2 673.9,1478.0 688.9,1480.9 C707.1,1484.4 731.1,1487.7 749.9,1490.2 C766.0,1492.3 784.5,1494.9 794.7,1495.1 C800.0,1495.2 803.3,1494.9 806.9,1494.3 C809.9,1493.8 812.1,1491.9 815.0,1492.2 C818.7,1492.6 822.3,1496.9 827.2,1498.3 C833.8,1500.2 843.5,1499.9 851.6,1500.4 C859.7,1500.9 869.3,1500.2 876.0,1501.2 C880.8,1501.9 881.7,1503.6 888.2,1504.5 C912.2,1507.8 993.7,1505.3 1060.0,1505.5 C1151.3,1505.7 1306.1,1505.4 1385.5,1505.1 C1431.4,1504.9 1462.3,1504.5 1494.0,1504.4 C1518.7,1504.3 1544.3,1504.6 1560.0,1504.3 C1568.7,1504.1 1574.4,1504.3 1580.3,1503.6 C1584.9,1503.0 1589.5,1502.5 1592.6,1500.9 C1595.0,1499.7 1596.2,1497.5 1598.0,1496.0 C1599.8,1494.6 1601.3,1492.5 1603.4,1492.0 C1605.7,1491.4 1608.9,1492.3 1611.5,1493.4 C1614.4,1494.6 1616.7,1499.1 1619.7,1499.5 C1622.9,1500.0 1626.9,1496.7 1630.5,1495.4 C1634.1,1494.2 1637.7,1492.6 1641.4,1492.0 C1645.0,1491.5 1648.7,1491.1 1652.2,1492.0 C1656.0,1493.0 1659.1,1496.6 1663.1,1498.1 C1667.3,1499.6 1672.1,1499.9 1676.6,1500.9 C1681.1,1501.9 1685.6,1503.7 1690.2,1504.0 C1694.7,1504.3 1699.4,1503.4 1703.8,1502.9 C1708.0,1502.4 1711.5,1501.4 1716.0,1500.9 C1721.3,1500.4 1727.9,1501.0 1733.6,1500.2 C1739.2,1499.4 1744.4,1496.9 1749.9,1496.1 C1755.3,1495.3 1761.4,1496.4 1766.2,1495.4 C1770.2,1494.6 1773.4,1491.5 1777.0,1491.4 C1780.6,1491.3 1784.2,1494.6 1787.9,1494.8 C1791.5,1495.0 1795.1,1493.9 1798.7,1492.7 C1802.7,1491.3 1807.3,1487.6 1810.9,1486.6 C1813.4,1485.9 1815.3,1486.0 1817.7,1485.9 C1820.3,1485.8 1823.0,1486.8 1825.8,1486.3 C1829.2,1485.7 1834.1,1483.0 1836.7,1481.9 C1838.1,1481.3 1838.7,1481.2 1840.0,1480.3 C1842.7,1478.4 1847.6,1473.6 1851.3,1470.0 C1855.1,1466.4 1859.4,1462.6 1862.7,1458.7 C1865.8,1455.1 1868.6,1451.6 1870.6,1447.4 C1872.8,1443.0 1873.8,1437.4 1875.1,1432.6 C1876.4,1428.0 1877.3,1423.3 1878.5,1419.0 C1879.6,1415.0 1880.9,1411.5 1882.0,1407.7 C1883.1,1403.9 1884.2,1400.2 1885.3,1396.4 C1886.4,1392.6 1887.3,1388.7 1888.7,1385.0 C1890.0,1381.5 1891.4,1378.0 1893.3,1374.8 C1895.2,1371.6 1897.5,1368.8 1900.1,1365.8 C1903.1,1362.4 1906.8,1358.9 1910.3,1355.5 C1913.9,1352.0 1917.7,1348.4 1921.6,1345.3 C1925.3,1342.4 1929.2,1339.9 1933.0,1337.4 C1936.7,1335.0 1940.9,1333.4 1944.3,1330.6 C1947.7,1327.8 1950.7,1323.9 1953.4,1320.4 C1956.0,1317.1 1958.1,1314.3 1960.2,1310.2 C1962.8,1305.1 1964.9,1297.9 1967.0,1291.6 C1969.1,1285.3 1971.1,1279.0 1973.0,1272.5 C1975.0,1265.7 1976.5,1257.2 1978.5,1251.5 C1980.0,1247.3 1981.1,1242.8 1983.2,1241.0 C1984.6,1239.8 1986.4,1239.5 1988.0,1239.8 C1989.9,1240.2 1991.9,1241.9 1993.7,1243.9 C1996.2,1246.6 1998.6,1251.0 2000.4,1255.4 C2002.5,1260.4 2003.3,1266.4 2004.8,1272.5 C2006.6,1279.6 2008.6,1287.4 2010.5,1295.5 C2012.6,1304.5 2014.8,1314.5 2016.6,1324.1 C2018.4,1333.6 2019.8,1342.5 2021.4,1352.7 C2023.3,1364.5 2025.0,1378.2 2027.1,1390.9 C2029.2,1403.6 2031.5,1417.3 2033.8,1429.1 C2035.8,1439.3 2037.2,1450.4 2039.7,1457.7 C2041.3,1462.5 2042.9,1467.4 2045.2,1469.2 C2046.6,1470.3 2048.2,1470.5 2050.0,1470.1 C2053.1,1469.4 2057.9,1463.1 2061.5,1461.6 C2064.1,1460.5 2066.4,1460.3 2069.1,1460.6 C2072.4,1461.0 2076.1,1462.6 2079.7,1464.8 C2084.3,1467.7 2088.4,1472.7 2093.5,1477.6 C2099.9,1483.8 2108.0,1494.6 2115.1,1499.2 C2120.4,1502.6 2126.1,1505.7 2130.9,1505.1 C2135.3,1504.6 2138.9,1500.7 2142.7,1497.2 C2147.5,1492.7 2152.2,1483.1 2156.5,1479.5 C2159.2,1477.3 2161.5,1475.7 2164.3,1475.6 C2167.4,1475.5 2171.3,1477.0 2174.2,1479.5 C2178.1,1482.7 2179.8,1491.5 2184.0,1495.3 C2187.8,1498.8 2191.8,1500.6 2197.8,1502.2 C2207.4,1504.8 2222.2,1504.8 2237.2,1505.1 C2256.9,1505.5 2287.2,1502.8 2306.0,1503.1 C2319.2,1503.3 2331.3,1503.2 2339.5,1505.1 C2344.6,1506.3 2347.4,1508.4 2351.3,1510.0" fill="none" stroke="#000000" stroke-width="6" stroke-linejoin="round" stroke-linecap="butt"/>
<ellipse cx="1987.9" cy="189.9" rx="48.7" ry="50.7" fill="none" stroke="#000" stroke-width="4.4"/>
<ellipse cx="1988" cy="465.4" rx="48.8" ry="51.2" fill="none" stroke="#000" stroke-width="4.4"/>
<ellipse cx="2000.9" cy="810" rx="48.7" ry="50.8" fill="none" stroke="#000" stroke-width="4.4"/>
<ellipse cx="1990" cy="972.3" rx="48.8" ry="51.1" fill="none" stroke="#000" stroke-width="4.4"/>
<ellipse cx="1995" cy="1265" rx="48.8" ry="50.8" fill="none" stroke="#000" stroke-width="4.4"/>
<line x1="2097" y1="89.8" x2="2068.2" y2="117.2" stroke="#000" stroke-width="3" stroke-linecap="round"/>
<polygon points="2039.4,142.7 2060.7,110.5 2075.7,124" fill="#000" stroke="#000" stroke-width="1.5" stroke-linejoin="round"/>
<line x1="2099.7" y1="382.1" x2="2070.3" y2="409.4" stroke="#000" stroke-width="3" stroke-linecap="round"/>
<polygon points="2042.4,434.9 2063,402.7 2077.7,416.1" fill="#000" stroke="#000" stroke-width="1.5" stroke-linejoin="round"/>
<line x1="2109.2" y1="692.7" x2="2080.5" y2="720.1" stroke="#000" stroke-width="3" stroke-linecap="round"/>
<polygon points="2052.6,747 2073.5,713.8 2087.5,726.5" fill="#000" stroke="#000" stroke-width="1.5" stroke-linejoin="round"/>
<line x1="2104.3" y1="1218.7" x2="2075.2" y2="1245.8" stroke="#000" stroke-width="3" stroke-linecap="round"/>
<polygon points="2047.1,1272.2 2067.9,1239.4 2082.6,1252.2" fill="#000" stroke="#000" stroke-width="1.5" stroke-linejoin="round"/>
<line x1="167.5" y1="33" x2="167.5" y2="1576" stroke="#000" stroke-width="7"/>
<line x1="2354.5" y1="33" x2="2354.5" y2="1576" stroke="#000" stroke-width="7"/>
<line x1="164.0" y1="36" x2="2358.0" y2="36" stroke="#000" stroke-width="6"/>
<line x1="164.0" y1="1573" x2="2358.0" y2="1573" stroke="#000" stroke-width="6"/>
<line x1="167.50" y1="1573" x2="167.50" y2="1601.5" stroke="#000" stroke-width="7" stroke-linecap="round"/>
<line x1="323.71" y1="1573" x2="323.71" y2="1587" stroke="#000" stroke-width="7" stroke-linecap="round"/>
<line x1="479.93" y1="1573" x2="479.93" y2="1601.5" stroke="#000" stroke-width="7" stroke-linecap="round"/>
<line x1="636.14" y1="1573" x2="636.14" y2="1587" stroke="#000" stroke-width="7" stroke-linecap="round"/>
<line x1="792.36" y1="1573" x2="792.36" y2="1601.5" stroke="#000" stroke-width="7" stroke-linecap="round"/>
<line x1="948.57" y1="1573" x2="948.57" y2="1587" stroke="#000" stroke-width="7" stroke-linecap="round"/>
<line x1="1104.79" y1="1573" x2="1104.79" y2="1601.5" stroke="#000" stroke-width="7" stroke-linecap="round"/>
<line x1="1261.00" y1="1573" x2="1261.00" y2="1587" stroke="#000" stroke-width="7" stroke-linecap="round"/>
<line x1="1417.21" y1="1573" x2="1417.21" y2="1601.5" stroke="#000" stroke-width="7" stroke-linecap="round"/>
<line x1="1573.43" y1="1573" x2="1573.43" y2="1587" stroke="#000" stroke-width="7" stroke-linecap="round"/>
<line x1="1729.64" y1="1573" x2="1729.64" y2="1601.5" stroke="#000" stroke-width="7" stroke-linecap="round"/>
<line x1="1885.86" y1="1573" x2="1885.86" y2="1587" stroke="#000" stroke-width="7" stroke-linecap="round"/>
<line x1="2042.07" y1="1573" x2="2042.07" y2="1601.5" stroke="#000" stroke-width="7" stroke-linecap="round"/>
<line x1="2198.29" y1="1573" x2="2198.29" y2="1587" stroke="#000" stroke-width="7" stroke-linecap="round"/>
<line x1="2354.50" y1="1573" x2="2354.50" y2="1601.5" stroke="#000" stroke-width="7" stroke-linecap="round"/>
<text transform="translate(94.39,1670) scale(1.027,1)" font-size="64">4000</text>
<text transform="translate(406.82,1670) scale(1.027,1)" font-size="64">3500</text>
<text transform="translate(719.25,1670) scale(1.027,1)" font-size="64">3000</text>
<text transform="translate(1031.68,1670) scale(1.027,1)" font-size="64">2500</text>
<text transform="translate(1344.10,1670) scale(1.027,1)" font-size="64">2000</text>
<text transform="translate(1656.53,1670) scale(1.027,1)" font-size="64">1500</text>
<text transform="translate(1968.96,1670) scale(1.027,1)" font-size="64">1000</text>
<text transform="translate(2299.67,1670) scale(1.027,1)" font-size="64">500</text>
<text transform="translate(189.50,290.90) scale(1.0247,1)" font-size="53.5" fill="#008000">PLLA/SBA-15 2.5%</text>
<text transform="translate(190.20,590.90) scale(1.0259,1)" font-size="53.5" fill="#ff00ff">PLLA/MCF 2.5%</text>
<text transform="translate(193.15,855.80) scale(1.0144,1)" font-size="53.5" fill="#0000ff">PLLA</text>
<text transform="translate(188.31,1106.50) scale(1.0245,1)" font-size="53.5" fill="#ff0000">SBA-15 neat</text>
<text transform="translate(190.91,1377.60) scale(1.0235,1)" font-size="53.5" fill="#000">MCF neat</text>
<text transform="translate(910.55,1801.00) scale(1.0025,1)" font-size="80" fill="#000">Wavenumber (cm</text>
<text transform="translate(1542.77,1763.80) scale(0.9863,1)" font-size="48" fill="#000">−</text>
<text x="1574.08" y="1763.8" font-size="46">1</text>
<text x="1609.33" y="1801.00" font-size="80" fill="#000">)</text>
<text transform="translate(86.5,1086.75) rotate(-90)" font-size="78">Absorbance</text>
</svg>
</body></html>
